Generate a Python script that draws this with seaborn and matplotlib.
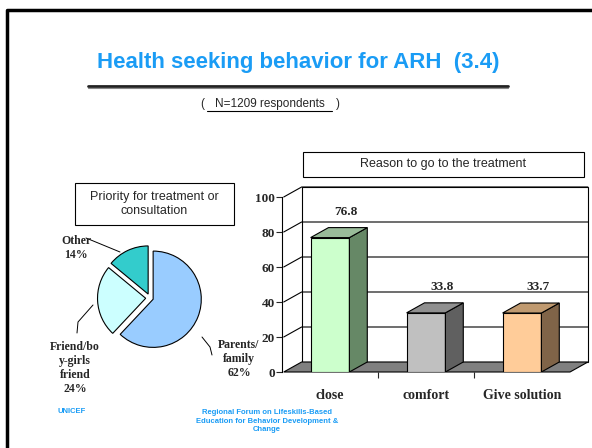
import matplotlib
matplotlib.use("Agg")
import matplotlib.pyplot as plt
import seaborn as sns
from matplotlib.patches import Polygon, Rectangle
from matplotlib.lines import Line2D

# pie: priority for treatment or consultation
pie_labels = ["Parents/\nfamily\n62%", "Friend/bo\ny-girls\nfriend\n24%", "Other\n14%"]
pie_values = [62, 24, 14]
pie_colors = ["#99CCFF", "#CCFFFF", "#33CCCC"]

# bars: reason to go to the treatment
reasons = ["close", "comfort", "Give solution"]
reason_values = [76.8, 33.8, 33.7]
front_colors = ["#CCFFCC", "#C0C0C0", "#FFCC99"]
side_colors = ["#668866", "#606060", "#806448"]
top_colors = ["#99BB99", "#909090", "#C09A70"]
y_ticks = [0, 20, 40, 60, 80, 100]

W, H = 592, 448
BLUE = "#1A9CF5"
SERIF = "Liberation Serif"
SANS = "Liberation Sans"

sns.set_style("white")
plt.rcParams["font.family"] = [SANS, "DejaVu Sans"]


def fx(x):
    return x / W


def fy(y):
    return 1 - y / H


fig = plt.figure(figsize=(W / 100, H / 100), dpi=100)

# slide frame
fig.add_artist(Line2D([fx(7), fx(7), fx(W + 5)], [fy(H + 5), fy(10), fy(10)],
                      color="black", lw=2.5))

# header
fig.text(fx(298), fy(62), "Health seeking behavior for ARH  (3.4)", color=BLUE,
         fontsize=16, fontweight="bold", ha="center", va="center")
fig.add_artist(Line2D([fx(88), fx(508)], [fy(86), fy(86)], color="#222222", lw=2))
fig.add_artist(Line2D([fx(88), fx(508)], [fy(88.5), fy(88.5)], color="#888888", lw=0.8))
fig.text(fx(202), fy(104), "(", fontsize=8.5, ha="center", va="center")
fig.text(fx(270), fy(104), "N=1209 respondents", fontsize=8.5, ha="center", va="center")
fig.text(fx(338), fy(104), ")", fontsize=8.5, ha="center", va="center")
fig.add_artist(Line2D([fx(207), fx(332)], [fy(111), fy(111)], color="black", lw=0.8))

# ---- pie ----
axp = fig.add_axes([fx(85), fy(363), 130 / W, 130 / H])
axp.pie(pie_values, colors=pie_colors, startangle=90, counterclock=False,
        explode=[0.07, 0.09, 0.09],
        wedgeprops=dict(edgecolor="black", linewidth=0.8))
axp.set_xlim(-1.35, 1.35)
axp.set_ylim(-1.35, 1.35)
axp.axis("off")

fig.add_artist(Rectangle((fx(75), fy(225)), 159 / W, 42 / H, facecolor="white",
                         edgecolor="black", lw=0.8))
fig.text(fx(154.5), fy(204), "Priority for treatment or\nconsultation", fontsize=9,
         ha="center", va="center", linespacing=1.25)

label_pos = [(239, 359), (75, 368), (76, 248)]
leaders = [[(212, 355), (210, 347), (202, 337)],
           [(77, 333), (78, 322), (93, 305)],
           [(86, 238), (120, 252)]]
for text, (x, y), pts in zip(pie_labels, label_pos, leaders):
    fig.text(fx(x), fy(y), text, family=SERIF, fontweight="bold", fontsize=8.5,
             ha="center", va="center", linespacing=1.2)
    fig.add_artist(Line2D([fx(p[0]) for p in pts], [fy(p[1]) for p in pts],
                          color="black", lw=0.7))

# ---- 3d-ish bars ----
ax_left, ax_right, ax_bot, ax_top = 282, 570, 372, 197
axb = fig.add_axes([fx(ax_left), fy(ax_bot), (ax_right - ax_left) / W, (ax_bot - ax_top) / H])
xl0, xl1 = -0.482, 2.50
axb.set_xlim(xl0, xl1)
axb.set_ylim(0, 100)
axb.patch.set_visible(False)

ddx = 18 * (xl1 - xl0) / (ax_right - ax_left)
ddy = 10 * 100 / (ax_bot - ax_top)

sns.barplot(x=reasons, y=reason_values, hue=reasons, palette=front_colors,
            legend=False, width=0.404, saturation=1, edgecolor="black",
            linewidth=0.8, ax=axb, zorder=3)

# back wall, grid and floor
axb.add_patch(Rectangle((xl0 + ddx, ddy), xl1 - xl0, 100, facecolor="white",
                        edgecolor="black", lw=0.8, zorder=0.5, clip_on=False))
for t in y_ticks[1:]:
    axb.plot([xl0, xl0 + ddx, xl1 + ddx], [t, t + ddy, t + ddy], color="black",
             lw=0.8, zorder=0.6, clip_on=False)
axb.add_patch(Polygon([(xl0, 0), (xl1, 0), (xl1 + ddx, ddy), (xl0 + ddx, ddy)],
                      closed=True, facecolor="#808080", edgecolor="black", lw=0.8,
                      zorder=1, clip_on=False))

for bar, sc, tc, v in zip(axb.patches, side_colors, top_colors, reason_values):
    x0, w, h = bar.get_x(), bar.get_width(), bar.get_height()
    axb.add_patch(Polygon([(x0 + w, 0), (x0 + w + ddx, ddy), (x0 + w + ddx, h + ddy), (x0 + w, h)],
                          closed=True, facecolor=sc, edgecolor="black", lw=0.8, zorder=3))
    axb.add_patch(Polygon([(x0, h), (x0 + w, h), (x0 + w + ddx, h + ddy), (x0 + ddx, h + ddy)],
                          closed=True, facecolor=tc, edgecolor="black", lw=0.8, zorder=3))
    axb.text(x0 + w / 2 + ddx * 0.9, h + ddy + 9, f"{v:.1f}", family=SERIF,
             fontweight="bold", fontsize=9.5, ha="center", va="center", clip_on=False)

sns.despine(ax=axb, top=True, right=True, bottom=True)
axb.spines["left"].set_linewidth(0.8)
axb.spines["left"].set_color("black")
axb.set_yticks(y_ticks)
axb.set_xticks([0, 1, 2])
axb.set_xticks([0.5, 1.5], minor=True)
axb.tick_params(axis="y", left=True, direction="out", length=4, width=0.8, pad=1,
                labelsize=9.5)
axb.tick_params(axis="x", which="major", bottom=False, pad=9, labelsize=10)
axb.tick_params(axis="x", which="minor", bottom=True, direction="out", length=4, width=0.8)
for lab in axb.get_xticklabels() + axb.get_yticklabels():
    lab.set_family(SERIF)
    lab.set_fontweight("bold")
axb.set_xlabel("")
axb.set_ylabel("")

fig.add_artist(Rectangle((fx(303), fy(177)), 281 / W, 25 / H, facecolor="white",
                         edgecolor="black", lw=0.8))
fig.text(fx(443.5), fy(164.5), "Reason to go to the treatment", fontsize=9,
         ha="center", va="center")

# footer
fig.text(fx(72), fy(411), "UNICEF", color=BLUE, fontsize=5.5, fontweight="bold",
         ha="center", va="center")
fig.text(fx(267), fy(421), "Regional Forum on Lifeskills-Based\nEducation for Behavior Development &\nChange",
         color=BLUE, fontsize=5.5, fontweight="bold", ha="center", va="center",
         linespacing=1.3)

fig.savefig("out.png", dpi=100)
